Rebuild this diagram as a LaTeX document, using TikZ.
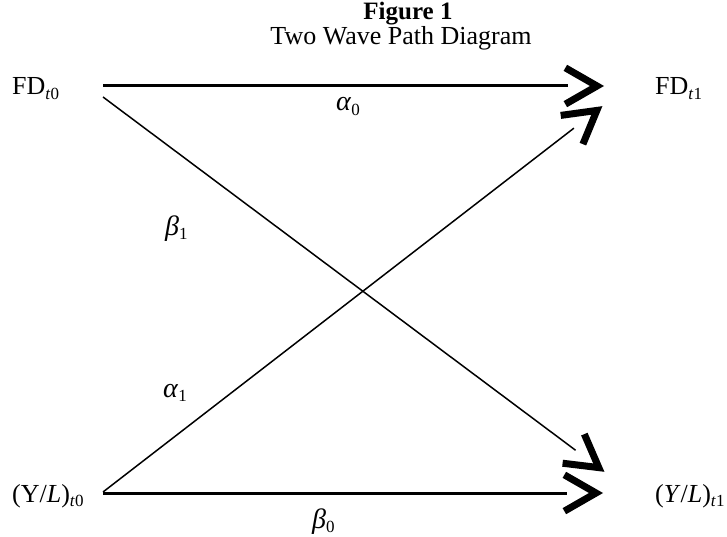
\documentclass[tikz,border=0pt]{standalone}
\usepackage{fontspec}
\setmainfont{Liberation Serif}
\usetikzlibrary{calc}
\newcommand{\sbs}[1]{\raisebox{-0.35ex}{\fontsize{17}{17}\selectfont #1}}
\tikzset{
  lbl/.style={font=\fontsize{26}{30}\selectfont, inner sep=0pt, anchor=base west},
  grk/.style={font=\fontsize{28}{30}\selectfont, inner sep=0pt, anchor=base west},
  ttl/.style={font=\fontsize{26}{30}\selectfont, inner sep=0pt, anchor=base},
  thickshaft/.style={line width=3pt},
  thinshaft/.style={line width=1.5pt},
  chev/.style={line width=7pt, miter limit=10}
}
\begin{document}
\begin{tikzpicture}[x=1pt,y=-1pt]
\useasboundingbox (0,0) rectangle (727,537);
% titles
\node[ttl, font=\fontsize{25}{30}\selectfont\bfseries] (t1) at (408,20) {Figure 1};
\node[ttl] (t2) at (401,45) {Two Wave Path Diagram};
% variable labels
\node[lbl] (fd0) at (12,95) {FD\sbs{\textit{t}0}};
\node[lbl] (fd1) at (655,95) {FD\sbs{\textit{t}1}};
\node[lbl] (yl0) at (12,502) {(Y/\textit{L})\sbs{\textit{t}0}};
\node[lbl] (yl1) at (655,502) {(\textit{Y}/\textit{L})\sbs{\textit{t}1}};
% connector end points
\coordinate (a0) at (103,86);  \coordinate (a1) at (601,86);
\coordinate (b0) at (103,97);  \coordinate (b1) at (602,470);
\coordinate (c0) at (103,492); \coordinate (c1) at (600,108);
\coordinate (d0) at (103,493); \coordinate (d1) at (600,493);
% shafts
\draw[thickshaft] (a0) -- ($(a1)!33pt!(a0)$);
\draw[thinshaft] (b0) -- ($(b1)!33pt!(b0)$);
\draw[thinshaft] (c0) -- ($(c1)!33pt!(c0)$);
\draw[thickshaft] (d0) -- ($(d1)!33pt!(d0)$);
% chevron heads
\foreach \s/\e in {a0/a1,b0/b1,c0/c1,d0/d1}{
  \draw[chev] ($(\e)!40pt!27:(\s)$) -- ($(\e)!4pt!(\s)$) -- ($(\e)!40pt!-27:(\s)$);
}
% coefficient labels
\node[grk] (al0) at (336,111) {\textit{α}\sbs{0}};
\node[grk] (be1) at (165,235) {\textit{β}\sbs{1}};
\node[grk] (al1) at (163,397) {\textit{α}\sbs{1}};
\node[grk] (be0) at (312,528) {\textit{β}\sbs{0}};
\end{tikzpicture}
\end{document}
